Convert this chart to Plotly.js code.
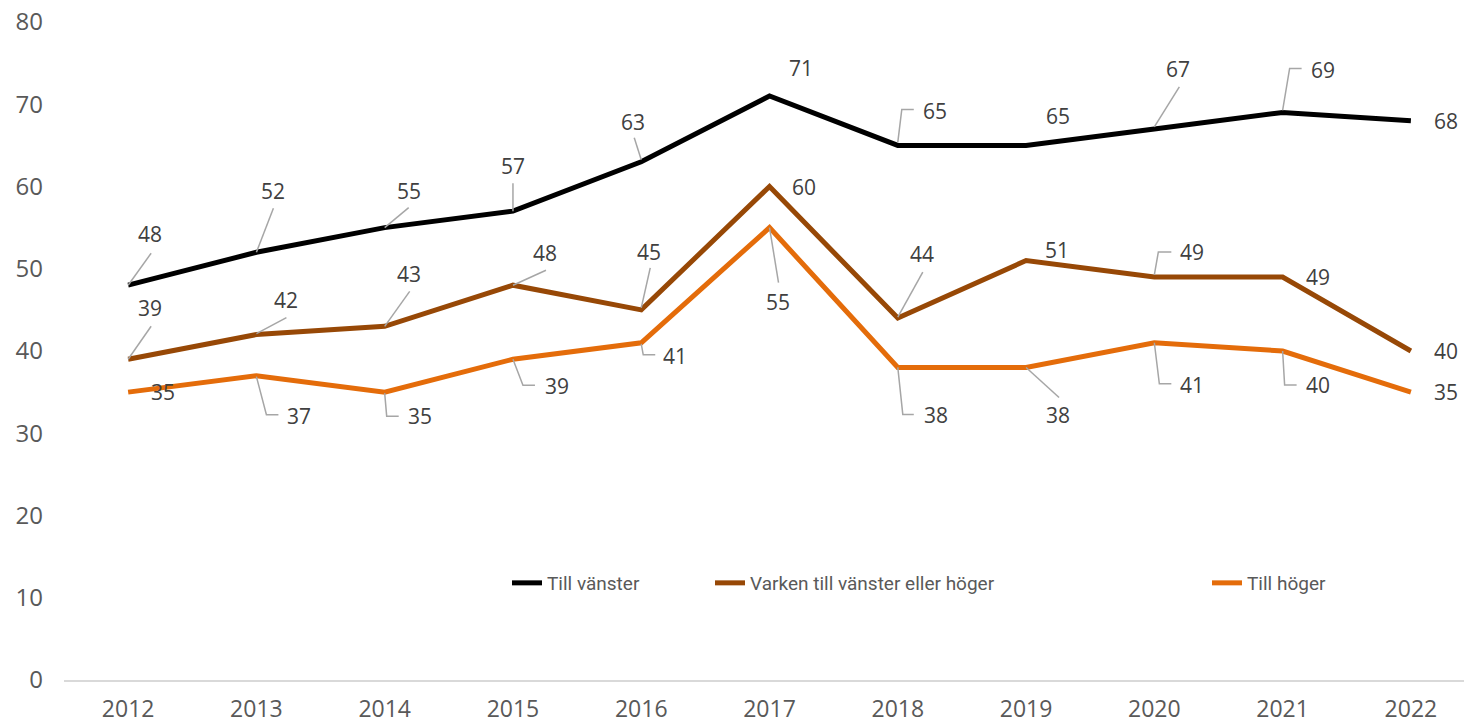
<!DOCTYPE html>
<html><head><meta charset="utf-8">
<script src="https://cdn.plot.ly/plotly-3.0.1.min.js"></script>
<style>html,body{margin:0;padding:0;background:#fff;}#chart{width:1464px;height:723px;}</style>
</head><body><div id="chart"></div>
<script>
// ---- data ----
const years = [2012, 2013, 2014, 2015, 2016, 2017, 2018, 2019, 2020, 2021, 2022];
const tickLabels = ['2012','2013','2014','2015','2016','2017','2018','2019','2020','2021','2022'];
const tillVanster = [48, 52, 55, 57, 63, 71, 65, 65, 67, 69, 68];
const varken = [39, 42, 43, 48, 45, 60, 44, 51, 49, 49, 40];
const tillHoger = [35, 37, 35, 39, 41, 55, 38, 38, 41, 40, 35];
const seriesNames = ['Till vänster', 'Varken till vänster eller höger', 'Till höger'];

// ---- label placement (pixel offsets from point; +x right, +y down) ----
const offVanster = [[22,-51],[16.5,-61],[24,-37],[0,-45],[-8,-40],[31.5,-28],[37,-34],[32,-29],[24,-60],[40.5,-42],[35,0]];
const offVarken  = [[22,-51],[30,-35],[24,-52],[32,-32],[8,-58],[34,0],[24,-64],[31,-11],[38,-25],[35,0],[35,0]];
const offHoger   = [[35,0],[43,40],[35,24],[44,27],[34,13],[8.5,74],[38,48],[32,48],[37.5,42],[35.5,34],[35,0]];
// leader lines (pixel offsets from point)
const leadVanster = [[[0,0],[23,-32]], [[0,0],[17,-44]], [[0,0],[24,-20]], [[0,0],[0,-28]], [[0,-2],[-7,-24]], null,
  [[0,-3],[4,-36],[16,-36]], null, [[0,-2],[25,-42]], [[0,-2],[7,-44],[19,-44]], null];
const leadVarken = [[[0,0],[23,-33]], [[0,-1],[30,-17]], [[0,0],[25,-35]], [[0,0],[33,-15]], [[0,-2],[9,-42]], null,
  [[0,-1],[25,-46]], null, [[0,-2],[4,-25],[17,-25]], null, null];
const leadHoger = [null, [[0,1],[10,39],[22,39]], [[0,1],[2,24],[14,24]], [[0,0],[10,26],[22,26]], [[0,1],[2,12],[14,12]],
  [[0,0],[9,55]], [[0,0],[5,47],[16,47]], [[0,0],[33,30]], [[0,0],[5,41],[17,41]], [[0,0],[2,34],[14,34]], null];

const colors = ['#000000', '#974806', '#E46C0A'];
const allSeries = [tillVanster, varken, tillHoger];
const allOff = [offVanster, offVarken, offHoger];
const allLead = [leadVanster, leadVarken, leadHoger];
const legendIds = ['legend', 'legend2', 'legend3'];

const traces = allSeries.map((vals, k) => ({
  type: 'scatter', mode: 'lines', x: years, y: vals, name: seriesNames[k],
  line: {color: colors[k], width: 5}, legend: legendIds[k], hoverinfo: 'skip'
}));

const annotations = [];
const shapes = [];
allSeries.forEach((vals, k) => {
  vals.forEach((v, i) => {
    const o = allOff[k][i];
    annotations.push({
      x: years[i], y: v, xref: 'x', yref: 'y', text: String(v), showarrow: false,
      xanchor: 'center', yanchor: 'middle', xshift: o[0], yshift: -o[1],
      font: {family: 'Open Sans, sans-serif', size: 21, color: '#404040'}
    });
    const l = allLead[k][i];
    if (l) {
      const path = l.map((p, j) => (j === 0 ? 'M' : 'L') + p[0] + ',' + (-p[1])).join('');
      shapes.push({
        type: 'path', xref: 'x', yref: 'y', xsizemode: 'pixel', ysizemode: 'pixel',
        xanchor: years[i], yanchor: v, path: path,
        line: {color: '#a6a6a6', width: 1.5}, fillcolor: 'rgba(0,0,0,0)', layer: 'above'
      });
    }
  });
});

const legendFont = {family: 'Liberation Sans Narrow, Roboto, sans-serif', size: 19, color: '#595959'};
const legendBase = {orientation: 'h', xref: 'paper', yref: 'paper', xanchor: 'left', yanchor: 'middle',
  y: (680 - 583) / 658, bgcolor: 'rgba(0,0,0,0)', font: legendFont};

const layout = {
  width: 1464, height: 723,
  margin: {l: 64, r: 0, t: 22, b: 43},
  paper_bgcolor: '#ffffff', plot_bgcolor: '#ffffff',
  showlegend: true,
  xaxis: {
    range: [2011.5, 2022.414], tickvals: years, ticktext: tickLabels,
    showgrid: false, zeroline: false, showline: true, linecolor: '#d9d9d9', linewidth: 1.5,
    ticks: '', ticklabelstandoff: 8, automargin: false,
    tickfont: {family: 'Open Sans, sans-serif', size: 23, color: '#595959'}
  },
  yaxis: {
    range: [0, 80], tickvals: [0,10,20,30,40,50,60,70,80], automargin: false,
    showgrid: false, zeroline: false, showline: false, ticks: '', ticklabelstandoff: 20,
    tickfont: {family: 'Open Sans, sans-serif', size: 24, color: '#595959'}
  },
  legend: Object.assign({}, legendBase, {x: (507 - 64) / 1400}),
  legend2: Object.assign({}, legendBase, {x: (710 - 64) / 1400}),
  legend3: Object.assign({}, legendBase, {x: (1207 - 64) / 1400}),
  annotations: annotations,
  shapes: shapes
};

Plotly.newPlot('chart', traces, layout, {staticPlot: true, displayModeBar: false});
</script>
</body></html>
